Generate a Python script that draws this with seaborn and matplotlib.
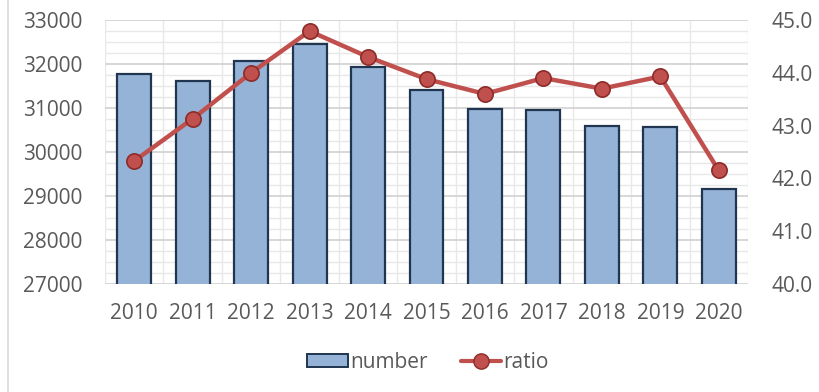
import numpy as np
import pandas as pd
import matplotlib
matplotlib.use("Agg")
import matplotlib.pyplot as plt
from matplotlib.ticker import MultipleLocator, FixedLocator
from matplotlib.lines import Line2D
from matplotlib.patches import Patch
import seaborn as sns

years = ["2010", "2011", "2012", "2013", "2014", "2015", "2016", "2017", "2018", "2019", "2020"]
number = [31770, 31610, 32060, 32450, 31925, 31410, 30975, 30955, 30590, 30570, 29160]
ratio = [42.33, 43.13, 44.00, 44.79, 44.30, 43.88, 43.60, 43.90, 43.70, 43.93, 42.15]

df = pd.DataFrame({"year": years, "number": number, "ratio": ratio})
df["pos"] = np.arange(len(df))

sns.set_theme(style="white")
plt.rcParams["font.family"] = ["Open Sans", "DejaVu Sans"]

BAR_FILL = "#95B3D7"
BAR_EDGE = "#1F3550"
LINE_C = "#C0504D"
MARK_EDGE = "#8C2B28"
TXT = "#595959"
FS = 15

fig = plt.figure(figsize=(8.19, 3.92), dpi=100)
ax = fig.add_axes([105 / 819, 1 - 284 / 392, (748 - 105) / 819, (284 - 20) / 392])

sns.barplot(data=df, x="year", y="number", ax=ax, color=BAR_FILL, width=0.58,
            edgecolor=BAR_EDGE, linewidth=1.6, saturation=1)
ax.set_ylim(27000, 33000)
ax.set_xlim(-0.5, len(years) - 0.5)
ax.yaxis.set_major_locator(MultipleLocator(1000))
ax.yaxis.set_minor_locator(MultipleLocator(250))
ax.xaxis.set_minor_locator(FixedLocator(np.arange(-0.5, len(years), 0.5)))
ax.set_axisbelow(True)
ax.grid(which="minor", color="#E8E8E8", linewidth=1.0)
ax.grid(which="major", axis="y", color="#D4D4D4", linewidth=1.3)
ax.tick_params(axis="both", which="both", length=0, colors=TXT, labelsize=FS)
ax.tick_params(axis="x", pad=14)
ax.tick_params(axis="y", pad=16.5)
ax.set_xlabel("")
ax.set_ylabel("")
for s in ax.spines.values():
    s.set_visible(False)

ax2 = ax.twinx()
sns.lineplot(data=df, x="pos", y="ratio", ax=ax2, color=LINE_C, linewidth=3.2,
             marker="o", markersize=11, markerfacecolor=LINE_C,
             markeredgecolor=MARK_EDGE, markeredgewidth=1.2, legend=False)
ax2.set_ylim(40, 45)
ax2.yaxis.set_major_locator(MultipleLocator(1))
ax2.yaxis.set_major_formatter(matplotlib.ticker.FormatStrFormatter("%.1f"))
ax2.tick_params(axis="y", length=0, colors=TXT, labelsize=FS, pad=17)
ax2.set_ylabel("")
ax2.set_xlabel("")
ax2.grid(False)
for s in ax2.spines.values():
    s.set_visible(False)

handles = [
    Patch(facecolor=BAR_FILL, edgecolor=BAR_EDGE, linewidth=1.4, label="number"),
    Line2D([0], [0], color=LINE_C, linewidth=3.0, marker="o", markersize=11,
           markerfacecolor=LINE_C, markeredgecolor=MARK_EDGE, label="ratio"),
]
leg = fig.legend(handles=handles, loc="center", bbox_to_anchor=(428 / 819, 1 - 362 / 392),
                 ncol=2, frameon=False, fontsize=FS, handlelength=1.95,
                 handleheight=0.6, handletextpad=0.1, columnspacing=1.6)
for t in leg.get_texts():
    t.set_color(TXT)

fig.add_artist(Line2D([8 / 819, 8 / 819], [0, 1], transform=fig.transFigure,
                      color="#D9D9D9", linewidth=1.2))

fig.savefig("out.png", dpi=100)
